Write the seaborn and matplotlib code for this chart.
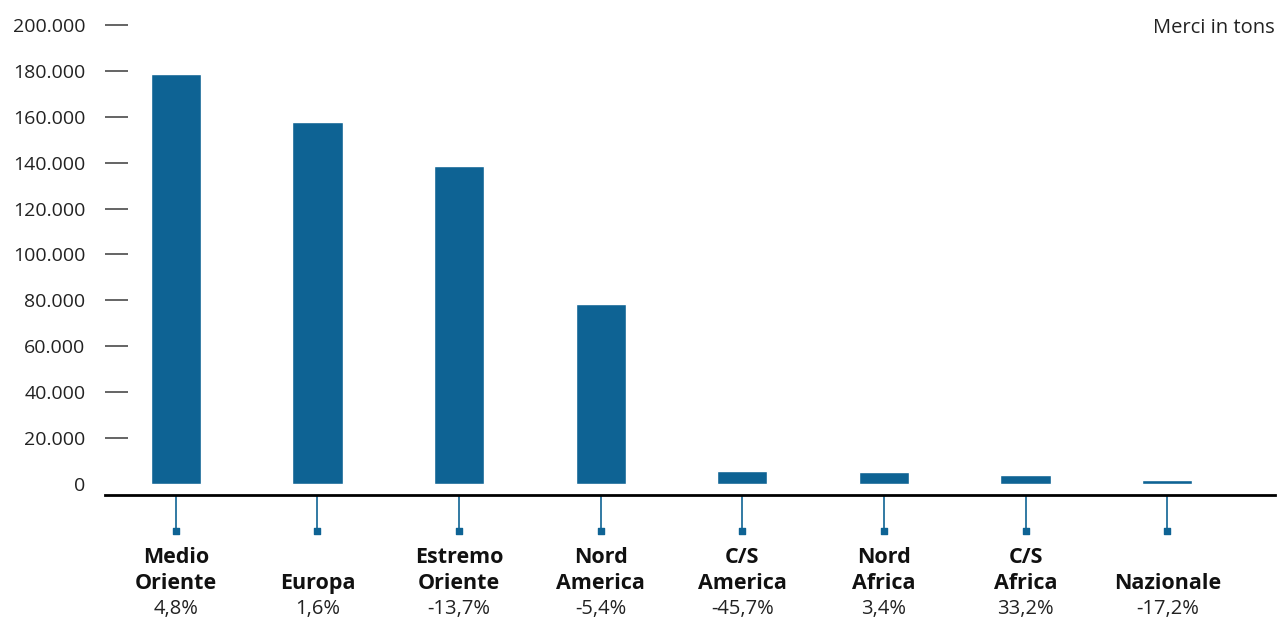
import pandas as pd
import matplotlib.pyplot as plt
import matplotlib.transforms as mtransforms
import seaborn as sns

# dati
aree = ["Medio Oriente", "Europa", "Estremo Oriente", "Nord America",
        "C/S America", "Nord Africa", "C/S Africa", "Nazionale"]
riga1 = ["Medio", "", "Estremo", "Nord", "C/S", "Nord", "C/S", ""]
riga2 = ["Oriente", "Europa", "Oriente", "America", "America", "Africa", "Africa", "Nazionale"]
variazioni = ["4,8%", "1,6%", "-13,7%", "-5,4%", "-45,7%", "3,4%", "33,2%", "-17,2%"]
merci = [178600, 157700, 138600, 78400, 5700, 5200, 4100, 1700]
yticks = list(range(0, 200001, 20000))

blu = "#0e6394"

sns.set_style("white")
plt.rcParams['font.family'] = ['Open Sans', 'DejaVu Sans']

df = pd.DataFrame({"area": aree, "merci": merci})

fig = plt.figure(figsize=(12.79, 6.18), dpi=100)
ax = fig.add_axes([105 / 1279, 123 / 618, 1170 / 1279, 470 / 618])

sns.barplot(data=df, x="area", y="merci", color=blu, saturation=1,
            width=0.355, ax=ax)

ax.set_xlim(-0.5, 7.761)
ax.set_ylim(-4800, 200000)
ax.set_xlabel("")
ax.set_ylabel("")

for s in ["top", "right", "left"]:
    ax.spines[s].set_visible(False)
ax.spines["bottom"].set_color("black")
ax.spines["bottom"].set_linewidth(2)

# asse y
ax.set_yticks(yticks)
ax.set_yticklabels([f"{v:,}".replace(",", ".") for v in yticks])
ax.tick_params(axis="y", left=True, direction="in", length=16.5, width=1.1,
               color="#3a3a3a", pad=14, labelsize=14, labelcolor="#222222")
ax.yaxis.get_major_ticks()[0].tick1line.set_visible(False)

# asse x: tacche lunghe con quadratino
ax.set_xticks(range(len(aree)))
ax.set_xticklabels([])
ax.tick_params(axis="x", bottom=True, direction="out", length=25, width=1.2, color=blu)
trans = mtransforms.blended_transform_factory(ax.transData, ax.transAxes)
ax.scatter(range(len(aree)), [-0.0766] * len(aree), marker="s", s=18,
           color=blu, transform=trans, clip_on=False, zorder=5)

for i in range(len(aree)):
    if riga1[i]:
        ax.text(i, -0.1447, riga1[i], transform=trans, ha="center",
                va="baseline", fontsize=15.5, fontweight="bold", color="#111111")
    ax.text(i, -0.2, riga2[i], transform=trans, ha="center",
            va="baseline", fontsize=15.5, fontweight="bold", color="#111111")
    ax.text(i, -0.253, variazioni[i], transform=trans, ha="center",
            va="baseline", fontsize=14.5, color="#222222")

fig.text(1275 / 1279, 1 - 33 / 618, "Merci in tons", ha="right",
         va="baseline", fontsize=14.5, color="#222222")

fig.savefig("out.png", dpi=100)
plt.close()
